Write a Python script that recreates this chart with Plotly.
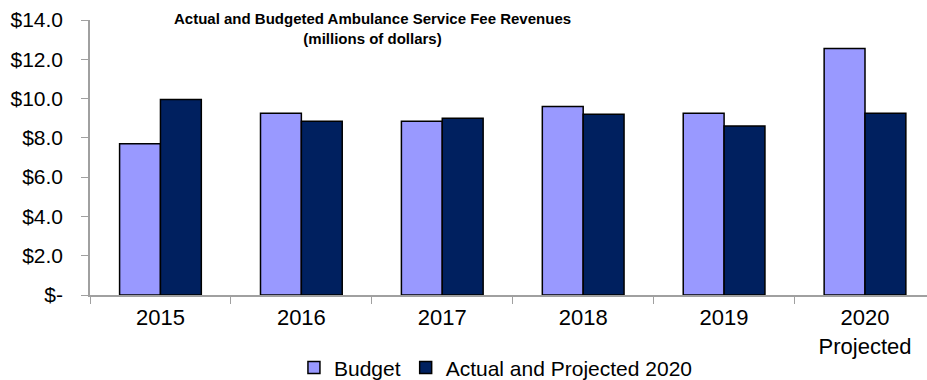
import plotly.graph_objects as go

# Fiscal years and revenue figures (millions of dollars)
years = ["2015", "2016", "2017", "2018", "2019", "2020<br>Projected"]
budget = [7.7, 9.25, 8.85, 9.6, 9.25, 12.55]
actual = [9.95, 8.85, 9.0, 9.2, 8.6, 9.25]

y_tick_vals = [0, 2, 4, 6, 8, 10, 12, 14]
y_tick_text = ["$-", "$2.0", "$4.0", "$6.0", "$8.0", "$10.0", "$12.0", "$14.0"]

FONT = "Liberation Sans, Arial, sans-serif"

fig = go.Figure()
fig.add_trace(go.Bar(
    x=years, y=budget, name="Budget",
    marker=dict(color="#9999FF", line=dict(color="#000000", width=1.5)),
))
fig.add_trace(go.Bar(
    x=years, y=actual, name="Actual and Projected 2020",
    marker=dict(color="#00205F", line=dict(color="#000000", width=1.5)),
))

fig.update_layout(
    width=927, height=380,
    margin=dict(l=90, r=0, t=20, b=85),
    paper_bgcolor="white", plot_bgcolor="white",
    barmode="group", bargap=0.42, bargroupgap=0,
    font=dict(family=FONT, size=21, color="#000000"),
    showlegend=True,
    legend=dict(
        orientation="h", xref="container", yref="container",
        x=0.535, y=0.032, xanchor="center", yanchor="middle",
        font=dict(size=21), itemwidth=30, traceorder="normal",
    ),
    annotations=[dict(
        text="<b>Actual and Budgeted Ambulance Service Fee Revenues<br>(millions of dollars)</b>",
        xref="paper", yref="paper", x=0.338, y=1.045,
        xanchor="center", yanchor="top", showarrow=False,
        font=dict(family=FONT, size=15, color="#000000"),
    )],
)

fig.update_xaxes(
    range=[-0.5, 5.44], showgrid=False, automargin=False,
    showline=True, linecolor="#A0A0A0", linewidth=1.5,
    ticks="outside", tickson="boundaries", ticklen=7, tickcolor="#A0A0A0",
    tickfont=dict(size=22), ticklabelstandoff=2,
)
fig.update_yaxes(
    range=[0, 14], showgrid=False, zeroline=False, automargin=False,
    showline=True, linecolor="#A0A0A0", linewidth=1.5,
    ticks="outside", ticklen=7, tickcolor="#A0A0A0",
    tickvals=y_tick_vals, ticktext=y_tick_text,
    tickfont=dict(size=21), ticklabelstandoff=14,
)

fig.write_html("out.html")
